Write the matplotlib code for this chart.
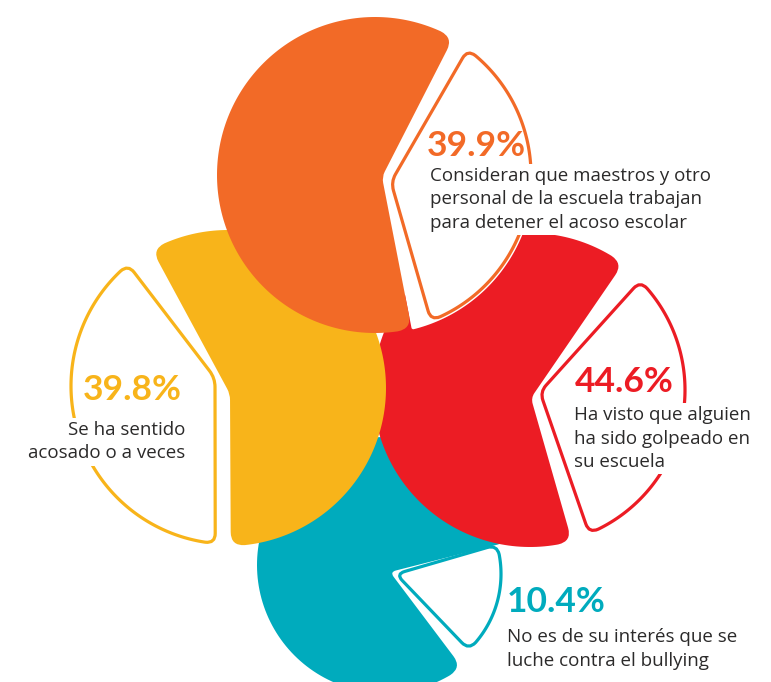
import numpy as np
import matplotlib
matplotlib.use("Agg")
import matplotlib.pyplot as plt
from matplotlib.path import Path
from matplotlib.patches import PathPatch, Rectangle
from matplotlib.transforms import Bbox

# datos
values = [39.9, 39.8, 44.6, 10.4]
descs = [
    ["Consideran que maestros y otro", "personal de la escuela trabajan", "para detener el acoso escolar"],
    ["Se ha sentido", "acosado o a veces"],
    ["Ha visto que alguien", "ha sido golpeado en", "su escuela"],
    ["No es de su interés que se", "luche contra el bullying"],
]
colors = ["#F26A27", "#F8B41A", "#EC1C24", "#00ABBD"]

# geometria (pixeles, angulos en grados)
centers = [(375, 175), (228, 388), (530, 390), (385, 565)]
radius = [158, 158, 157, 128]
fill_arc = [(60.3, 283.4), (-89, 118.8), (53.6, 285.5), (10.7, 306.9)]
apex = [(382, 177), (230, 394), (531, 398), (390, 572)]
out_center = [(375, 175), (229, 386), (530, 390), (396, 574)]
out_radius = [156, 158, 155, 105]
out_arc = [(-69, 53.6), (129.7, 265), (-67.6, 44.7), (-46.2, 16.2)]
out_apex = [(391, 182), (215, 378), (540, 392), (396, 574)]
layer = [4, 3, 2, 1]

# textos
pct_pos = [(427, 156, "left"), (182, 400, "right"), (575, 392, "left"), (507, 612, "left")]
desc_pos = [(430, 181, "left"), (185, 435, "right"), (574, 420, "left"), (507, 642, "left")]
line_gap = 23.5

plt.rcParams["font.family"] = ["Lato", "DejaVu Sans"]
txt_color = "#2b2a2a"


def pt(c, r, a):
    a = np.radians(a)
    return np.array([c[0] + r * np.cos(a), c[1] - r * np.sin(a)])


def sector(c, r, a0, a1, tip, n=160):
    if a1 < a0:
        a1 += 360
    arc = [pt(c, r, a) for a in np.linspace(a0, a1, n)]
    return np.array(arc + [np.array(tip, float)]), [0, n - 1, n]


def walk(p, i, r, step):
    n = len(p)
    d = 0.0
    cur = i
    while True:
        nxt = (cur + step) % n
        seg = np.linalg.norm(p[nxt] - p[cur])
        if d + seg >= r:
            t = (r - d) / seg
            return p[cur] + (p[nxt] - p[cur]) * t, cur
        d += seg
        cur = nxt


def rounded(p, corners, radii):
    n = len(p)
    info = {}
    for i, r in zip(corners, radii):
        b, lastf = walk(p, i, r, 1)
        a, lastb = walk(p, i, r, -1)
        info[i] = (a, lastb, b, lastf)
    cs = sorted(corners)
    verts = [info[cs[0]][2]]
    codes = [Path.MOVETO]
    for k in range(len(cs)):
        ci = cs[k]
        cj = cs[(k + 1) % len(cs)]
        j = (info[ci][3] + 1) % n
        while j != info[cj][1]:
            verts.append(p[j])
            codes.append(Path.LINETO)
            j = (j + 1) % n
        verts += [info[cj][0], p[cj], info[cj][2]]
        codes += [Path.LINETO, Path.CURVE3, Path.CURVE3]
    verts.append(verts[0])
    codes.append(Path.CLOSEPOLY)
    return Path(verts, codes)


fig = plt.figure(figsize=(7.71, 6.82), dpi=100)
ax = fig.add_axes([0, 0, 1, 1])
ax.set_xlim(0, 771)
ax.set_ylim(682, 0)
ax.axis("off")

for k in range(4):
    z = layer[k] * 10
    c, r = centers[k], radius[k]
    f0, f1 = fill_arc[k]
    # hueco blanco entre la parte llena y la cuña
    p, cs = sector(c, r + 1, f1, f0 + 360, apex[k])
    ax.add_patch(PathPatch(rounded(p, cs, [2, 2, 4]), fc="white", ec="none", zorder=z))
    # parte llena
    p, cs = sector(c, r, f0, f1, apex[k])
    ax.add_patch(PathPatch(rounded(p, cs, [14, 14, 6]), fc=colors[k], ec="none", zorder=z + 1))
    # cuña con contorno
    o0, o1 = out_arc[k]
    p, cs = sector(out_center[k], out_radius[k], o0, o1, out_apex[k])
    ax.add_patch(PathPatch(rounded(p, cs, [10, 10, 9]), fc="white", ec=colors[k],
                           lw=2.3, joinstyle="round", zorder=z + 2))

renderer = fig.canvas.get_renderer()
inv = ax.transData.inverted()
for k in range(4):
    x, y, ha = pct_pos[k]
    ax.text(x, y, f"{values[k]:.1f}%", color=colors[k], fontsize=25.5, fontweight="bold",
            ha=ha, va="baseline", zorder=100)
    x, y, ha = desc_pos[k]
    boxes = []
    for i, line in enumerate(descs[k]):
        t = ax.text(x, y + i * line_gap, line, color=txt_color, fontsize=13.5, ha=ha,
                    va="baseline", family=["Open Sans", "DejaVu Sans"], zorder=100)
        boxes.append(t.get_window_extent(renderer))
    # fondo blanco del parrafo (tapa el contorno de la cuña)
    bb = Bbox.union(boxes).transformed(inv)
    x0, x1 = sorted([bb.x0, bb.x1])
    y0, y1 = sorted([bb.y0, bb.y1])
    ax.add_patch(Rectangle((x0 - 4, y0 - 3), x1 - x0 + 8, y1 - y0 + 6, fc="white", ec="none", zorder=99))

fig.savefig("out.png", dpi=100)
